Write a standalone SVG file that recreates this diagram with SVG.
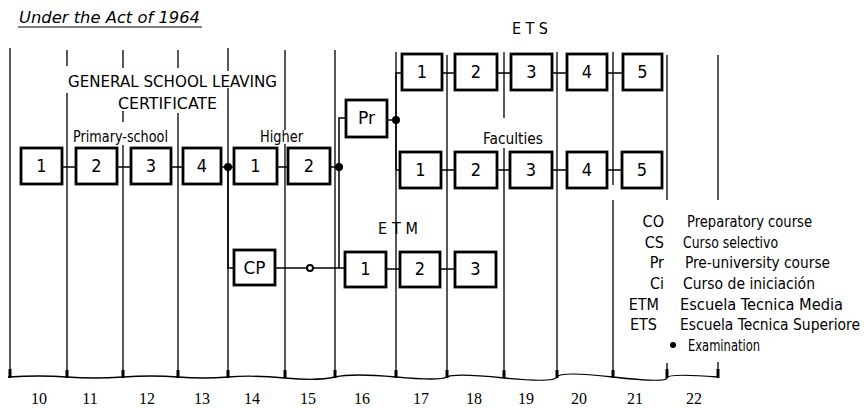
<svg xmlns="http://www.w3.org/2000/svg" width="867" height="408" viewBox="0 0 867 408">
<style>
.bg{fill:#fff}
.box{fill:#fff;stroke:#000;stroke-width:2.8}
.grid{stroke:#000;stroke-width:1.3;fill:none}
.conn{stroke:#000;stroke-width:1.5;fill:none}
.tick{fill:#000}
.dot{fill:#000}
.num{font-family:"Liberation Sans Narrow","DejaVu Sans Condensed","Liberation Sans",Arial,sans-serif;font-size:18px;text-anchor:middle;fill:#000}
.t{font-family:"Liberation Sans Narrow","DejaVu Sans Condensed","Liberation Sans",Arial,sans-serif;font-size:16px;fill:#000}
.yr{font-family:"Liberation Serif","Times New Roman",serif;font-size:16px;text-anchor:middle;fill:#000}
</style>
<rect class="bg" x="0" y="0" width="867" height="408"/>

<!-- title -->
<text class="t" x="19" y="23" font-style="italic" font-size="17" textLength="181" lengthAdjust="spacingAndGlyphs">Under the Act of 1964</text>
<line x1="18" y1="27" x2="202" y2="27" stroke="#000" stroke-width="1"/>

<!-- year grid -->
<g id="grid">
<path class="grid" d="M10,48V377 M67,50V66 M67,93V377 M123,50V68 M123,111V122 M123,145V377 M178,50V68 M178,113V377 M228,48V71 M228,88V377 M285,50V130 M285,144V377 M335,50V377 M396,52V377 M447,55V377 M504,52V118 M504,148V377 M557,52V377 M613,52V185 M613,200V377 M667,55V200 M667,363V377 M718,55V200 M718,362V377"/>
<path class="grid" stroke-width="1.6" d="M8,377 Q40,375 67,377 T123,377 T178,377 T228,377 T285,378 T335,377 T396,377 T447,377 T504,378 T557,377 T613,377 T667,378 T718,377"/>
<g class="tick">
<rect x="8.5" y="369" width="3" height="9"/><rect x="65.5" y="370" width="3" height="8"/><rect x="121.5" y="370" width="3" height="8"/><rect x="176.5" y="370" width="3" height="8"/><rect x="226.5" y="370" width="3" height="8"/><rect x="283.5" y="370" width="3" height="8"/><rect x="333.5" y="370" width="3" height="8"/><rect x="394.5" y="370" width="3" height="8"/><rect x="445.5" y="370" width="3" height="8"/><rect x="502.5" y="370" width="3" height="8"/><rect x="555.5" y="370" width="3" height="8"/><rect x="611.5" y="370" width="3" height="8"/><rect x="665.5" y="369" width="3" height="9"/><rect x="716.5" y="369" width="3" height="9"/>
</g>
</g>

<!-- year labels -->
<g id="years">
<text class="yr" x="39" y="404">10</text><text class="yr" x="90" y="404">11</text><text class="yr" x="147" y="404">12</text><text class="yr" x="202" y="404">13</text><text class="yr" x="252" y="404">14</text><text class="yr" x="308" y="404">15</text><text class="yr" x="362" y="404">16</text><text class="yr" x="421" y="404">17</text><text class="yr" x="474" y="404">18</text><text class="yr" x="526" y="404">19</text><text class="yr" x="579" y="404">20</text><text class="yr" x="635" y="404">21</text><text class="yr" x="694" y="404">22</text>
</g>

<!-- labels -->
<g id="labels">
<text class="t" x="512" y="34" font-size="15" textLength="36" lengthAdjust="spacing">E T S</text>
<text class="t" x="68" y="87" font-size="17" textLength="209" lengthAdjust="spacingAndGlyphs">GENERAL SCHOOL LEAVING</text>
<text class="t" x="118" y="109" font-size="17" textLength="99" lengthAdjust="spacingAndGlyphs">CERTIFICATE</text>
<text class="t" x="73" y="142" font-size="17" textLength="95" lengthAdjust="spacingAndGlyphs">Primary-school</text>
<text class="t" x="260" y="142" font-size="17" textLength="43" lengthAdjust="spacingAndGlyphs">Higher</text>
<text class="t" x="483" y="144" font-size="17" textLength="60" lengthAdjust="spacingAndGlyphs">Faculties</text>
<text class="t" x="378" y="234" font-size="15" textLength="40" lengthAdjust="spacing">E T M</text>
</g>

<!-- connectors -->
<g id="connectors">
<path class="conn" d="M62,167H76 M117,167H131 M171,167H183 M221,167H234 M277,167H288 M330,167H339"/>
<path class="conn" d="M228,167V268H234"/>
<path class="conn" d="M275,268H345"/>
<path class="conn" d="M339,167V118H346 M339,167V268"/>
<path class="conn" d="M387,120H396 M396,120V73H402 M396,120V170H400"/>
<path class="conn" d="M442,73H455 M497,73H511 M552,73H567 M607,73H623"/>
<path class="conn" d="M441,170H455 M497,170H510 M552,170H567 M607,170H622"/>
<path class="conn" d="M386,269H400 M440,269H455"/>
<circle class="dot" cx="228" cy="167" r="4"/>
<circle class="dot" cx="339" cy="167" r="4"/>
<circle class="dot" cx="396" cy="120" r="4"/>
<circle cx="310" cy="268" r="3" fill="#fff" stroke="#000" stroke-width="2"/>
</g>

<!-- primary school -->
<g id="p1"><rect class="box" x="21" y="148" width="41" height="36"/><text class="num" x="41.5" y="172">1</text></g>
<g id="p2"><rect class="box" x="76" y="148" width="41" height="36"/><text class="num" x="96.5" y="172">2</text></g>
<g id="p3"><rect class="box" x="131" y="148" width="40" height="36"/><text class="num" x="151" y="172">3</text></g>
<g id="p4"><rect class="box" x="183" y="148" width="38" height="36"/><text class="num" x="202" y="172">4</text></g>
<!-- higher -->
<g id="h1"><rect class="box" x="234" y="148" width="43" height="36"/><text class="num" x="255.5" y="172">1</text></g>
<g id="h2"><rect class="box" x="288" y="148" width="42" height="36"/><text class="num" x="309" y="172">2</text></g>
<!-- pre-university -->
<g id="pr"><rect class="box" x="346" y="100" width="41" height="37"/><text class="num" x="366.5" y="124" textLength="17" lengthAdjust="spacingAndGlyphs">Pr</text></g>
<!-- CP -->
<g id="cp"><rect class="box" x="234" y="250" width="41" height="35"/><text class="num" x="254.5" y="274" textLength="22" lengthAdjust="spacingAndGlyphs">CP</text></g>
<!-- ETS -->
<g id="ets1"><rect class="box" x="402" y="54" width="40" height="36"/><text class="num" x="422" y="78">1</text></g>
<g id="ets2"><rect class="box" x="455" y="54" width="42" height="36"/><text class="num" x="476" y="78">2</text></g>
<g id="ets3"><rect class="box" x="511" y="54" width="41" height="36"/><text class="num" x="531.5" y="78">3</text></g>
<g id="ets4"><rect class="box" x="567" y="54" width="40" height="36"/><text class="num" x="587" y="78">4</text></g>
<g id="ets5"><rect class="box" x="623" y="54" width="39" height="36"/><text class="num" x="642.5" y="78">5</text></g>
<!-- Faculties -->
<g id="fac1"><rect class="box" x="400" y="152" width="41" height="36"/><text class="num" x="420.5" y="176">1</text></g>
<g id="fac2"><rect class="box" x="455" y="152" width="42" height="36"/><text class="num" x="476" y="176">2</text></g>
<g id="fac3"><rect class="box" x="510" y="152" width="42" height="36"/><text class="num" x="531" y="176">3</text></g>
<g id="fac4"><rect class="box" x="567" y="152" width="40" height="36"/><text class="num" x="587" y="176">4</text></g>
<g id="fac5"><rect class="box" x="622" y="152" width="40" height="36"/><text class="num" x="642" y="176">5</text></g>
<!-- ETM -->
<g id="etm1"><rect class="box" x="345" y="252" width="41" height="35"/><text class="num" x="365.5" y="275">1</text></g>
<g id="etm2"><rect class="box" x="400" y="252" width="40" height="35"/><text class="num" x="420" y="275">2</text></g>
<g id="etm3"><rect class="box" x="455" y="252" width="41" height="35"/><text class="num" x="475.5" y="275">3</text></g>

<!-- legend -->
<g id="legend">
<g class="t" text-anchor="end">
<text x="664" y="227">CO</text>
<text x="664" y="248">CS</text>
<text x="664" y="268">Pr</text>
<text x="664" y="289">Ci</text>
<text x="659" y="310">ETM</text>
<text x="657" y="330">ETS</text>
</g>
<text class="t" x="687" y="227" textLength="125" lengthAdjust="spacingAndGlyphs">Preparatory course</text>
<text class="t" x="683" y="248" textLength="95" lengthAdjust="spacingAndGlyphs">Curso selectivo</text>
<text class="t" x="685" y="268" textLength="145" lengthAdjust="spacingAndGlyphs">Pre-university course</text>
<text class="t" x="683" y="289" textLength="132" lengthAdjust="spacingAndGlyphs">Curso de iniciación</text>
<text class="t" x="680" y="310" textLength="163" lengthAdjust="spacingAndGlyphs">Escuela Tecnica Media</text>
<text class="t" x="680" y="330" textLength="180" lengthAdjust="spacingAndGlyphs">Escuela Tecnica Superiore</text>
<circle class="dot" cx="673" cy="345" r="3"/>
<text class="t" x="688" y="351" textLength="72" lengthAdjust="spacingAndGlyphs">Examination</text>
</g>
</svg>
